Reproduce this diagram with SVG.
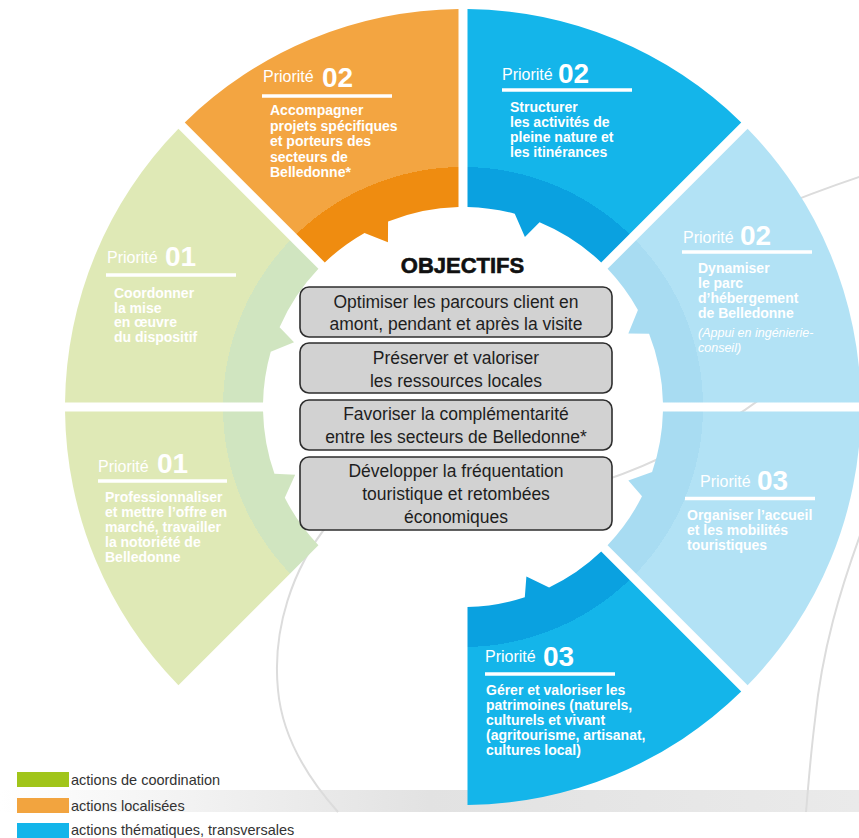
<svg xmlns="http://www.w3.org/2000/svg" width="859" height="838" viewBox="0 0 859 838">
<style>
.pr{font-family:"Liberation Sans",Arial,sans-serif;font-size:16px;fill:#fff}
.num{font-family:"Liberation Sans",Arial,sans-serif;font-size:28px;font-weight:bold;fill:#fff}
.body{font-family:"Liberation Sans",Arial,sans-serif;font-size:14px;font-weight:bold;fill:#fff}
.ital{font-family:"Liberation Sans",Arial,sans-serif;font-size:12.5px;font-style:italic;fill:#fff}
.rule{stroke:#fff;stroke-width:3.5}
.bg{fill:none;stroke:#dcdcdc;stroke-width:2}
.box rect{fill:#d2d2d2;stroke:#2e2e2e;stroke-width:1.6}
.box text{font-family:"Liberation Sans",Arial,sans-serif;font-size:17.5px;fill:#1e1e1e;text-anchor:middle}
.leg{font-family:"Liberation Sans",Arial,sans-serif;font-size:14.5px;fill:#333}
</style>
<defs>
<radialGradient id="gO" gradientUnits="userSpaceOnUse" cx="463" cy="407" r="398"><stop offset="0.603" stop-color="#ef8c10"/><stop offset="0.603" stop-color="#f3a541"/></radialGradient>
<radialGradient id="gB" gradientUnits="userSpaceOnUse" cx="463" cy="407" r="398"><stop offset="0.603" stop-color="#0aa1e0"/><stop offset="0.603" stop-color="#14b5ea"/></radialGradient>
<radialGradient id="gL" gradientUnits="userSpaceOnUse" cx="463" cy="407" r="398"><stop offset="0.603" stop-color="#a8dcf2"/><stop offset="0.603" stop-color="#b2e2f5"/></radialGradient>
<radialGradient id="gG" gradientUnits="userSpaceOnUse" cx="463" cy="407" r="398"><stop offset="0.603" stop-color="#d0e5c0"/><stop offset="0.603" stop-color="#dfe9b6"/></radialGradient>
<linearGradient id="band" x1="0" y1="0" x2="1" y2="0"><stop offset="0" stop-color="#ffffff"/><stop offset="0.5" stop-color="#e2e2e2"/><stop offset="1" stop-color="#eaeaea"/></linearGradient>
</defs>
<rect width="859" height="838" fill="#fff"/>
<g id="background">
<rect x="0" y="790" width="859" height="22" fill="url(#band)"/>
<path class="bg" d="M 330 522 C 292 568 272 630 278 690 C 282 735 305 775 338 812"/>
<path class="bg" d="M 862 530 C 840 590 822 650 815 720 C 810 760 808 790 806 812"/>
<path class="bg" d="M 600 482 Q 690 452 770 392"/>
<path class="bg" d="M 700 240 Q 790 200 862 176"/>
</g>
<g id="seg-green-1a">
<path fill="url(#gG)" d="M 65.03 402.5 A 398 398 0 0 1 178.41 128.77 L 318.43 268.80 A 200 200 0 0 0 279.59 327.25 L 294.02 342.14 L 270.75 351.87 A 200 200 0 0 0 263.05 402.5 Z"/>
<text class="pr" x="107" y="263">Priorité</text><text class="num" x="165" y="266">01</text>
<line class="rule" x1="106" y1="275" x2="236" y2="275"/>
<text class="body"><tspan x="114" y="298">Coordonner</tspan><tspan x="114" y="312.5">la mise</tspan><tspan x="114" y="327">en œuvre</tspan><tspan x="114" y="341.5">du dispositif</tspan></text>
</g>
<g id="seg-orange-2">
<path fill="url(#gO)" d="M 184.77 122.41 A 398 398 0 0 1 458.5 9.03 L 458.5 207.05 A 200 200 0 0 0 388.08 221.56 L 387.94 242.30 L 364.52 232.93 A 200 200 0 0 0 324.80 262.43 Z"/>
<text class="pr" x="263" y="82">Priorité</text><text class="num" x="322" y="87">02</text>
<line class="rule" x1="262" y1="96" x2="392" y2="96"/>
<text class="body"><tspan x="270" y="115">Accompagner</tspan><tspan x="270" y="130.6">projets spécifiques</tspan><tspan x="270" y="146.2">et porteurs des</tspan><tspan x="270" y="161.8">secteurs de</tspan><tspan x="270" y="177.4">Belledonne*</tspan></text>
</g>
<g id="seg-blue-2">
<path fill="url(#gB)" d="M 467.5 9.03 A 398 398 0 0 1 741.23 122.41 L 601.20 262.43 A 200 200 0 0 0 539.54 222.22 L 524.91 236.92 L 514.76 213.81 A 200 200 0 0 0 467.5 207.05 Z"/>
<text class="pr" x="502" y="80">Priorité</text><text class="num" x="558" y="83">02</text>
<line class="rule" x1="502" y1="90" x2="632" y2="90"/>
<text class="body"><tspan x="510" y="112">Structurer</tspan><tspan x="510" y="127">les activités de</tspan><tspan x="510" y="142">pleine nature et</tspan><tspan x="510" y="157">les itinérances</tspan></text>
</g>
<g id="seg-light-2">
<path fill="url(#gL)" d="M 747.59 128.77 A 398 398 0 0 1 860.97 402.5 L 662.95 402.5 A 200 200 0 0 0 649.08 333.70 L 628.35 333.38 L 637.92 310.04 A 200 200 0 0 0 607.57 268.80 Z"/>
<text class="pr" x="683" y="243">Priorité</text><text class="num" x="740" y="245">02</text>
<line class="rule" x1="682" y1="252" x2="812" y2="252"/>
<text class="body"><tspan x="698" y="273">Dynamiser</tspan><tspan x="698" y="288">le parc</tspan><tspan x="698" y="303">d’hébergement</tspan><tspan x="698" y="318">de Belledonne</tspan></text>
<text class="ital"><tspan x="698" y="337">(Appui en ingénierie-</tspan><tspan x="698" y="352">conseil)</tspan></text>
</g>
<g id="seg-light-3">
<path fill="url(#gL)" d="M 860.97 411.5 A 398 398 0 0 1 747.59 685.23 L 607.57 545.20 A 200 200 0 0 0 641.99 496.24 L 628.35 480.62 L 652.10 472.11 A 200 200 0 0 0 662.95 411.5 Z"/>
<text class="pr" x="700" y="487">Priorité</text><text class="num" x="757" y="490">03</text>
<line class="rule" x1="685" y1="498.5" x2="815" y2="498.5"/>
<text class="body"><tspan x="687" y="520">Organiser l’accueil</tspan><tspan x="687" y="535">et les mobilités</tspan><tspan x="687" y="550">touristiques</tspan></text>
</g>
<g id="seg-blue-3">
<path fill="url(#gB)" d="M 741.23 691.59 A 398 398 0 0 1 467.5 804.97 L 467.5 606.95 A 200 200 0 0 0 524.80 597.21 L 526.39 576.54 L 549.10 587.52 A 200 200 0 0 0 601.20 551.57 Z"/>
<text class="pr" x="485" y="662">Priorité</text><text class="num" x="543" y="666">03</text>
<line class="rule" x1="485" y1="674" x2="615" y2="674"/>
<text class="body"><tspan x="486" y="695">Gérer et valoriser les</tspan><tspan x="486" y="710">patrimoines (naturels,</tspan><tspan x="486" y="725">culturels et vivant</tspan><tspan x="486" y="740">(agritourisme, artisanat,</tspan><tspan x="486" y="755">cultures local)</tspan></text>
</g>
<g id="seg-green-1b">
<path fill="url(#gG)" d="M 178.41 685.23 A 398 398 0 0 1 65.03 411.5 L 263.05 411.5 A 200 200 0 0 0 274.47 473.76 L 295.18 474.80 L 284.80 497.80 A 200 200 0 0 0 318.43 545.20 Z"/>
<text class="pr" x="98" y="472">Priorité</text><text class="num" x="157" y="473">01</text>
<line class="rule" x1="98" y1="481" x2="227" y2="481"/>
<text class="body"><tspan x="105" y="502">Professionnaliser</tspan><tspan x="105" y="517">et mettre l’offre en</tspan><tspan x="105" y="532">marché, travailler</tspan><tspan x="105" y="547">la notoriété de</tspan><tspan x="105" y="562">Belledonne</tspan></text>
</g>
<g id="objectifs">
<text x="462.5" y="273" text-anchor="middle" font-family="Liberation Sans, Arial, sans-serif" font-size="22" font-weight="bold" fill="#111" stroke="#111" stroke-width="0.6">OBJECTIFS</text>
<g id="obj-1" class="box"><rect x="300" y="287" width="312" height="50" rx="9"/><text x="456" y="308">Optimiser les parcours client en</text><text x="456" y="330">amont, pendant et après la visite</text></g>
<g id="obj-2" class="box"><rect x="300" y="343" width="312" height="50" rx="9"/><text x="456" y="364">Préserver et valoriser</text><text x="456" y="387">les ressources locales</text></g>
<g id="obj-3" class="box"><rect x="300" y="400" width="312" height="50" rx="9"/><text x="456" y="420">Favoriser la complémentarité</text><text x="456" y="443">entre les secteurs de Belledonne*</text></g>
<g id="obj-4" class="box"><rect x="300" y="457" width="312" height="73" rx="9"/><text x="456" y="477">Développer la fréquentation</text><text x="456" y="500">touristique et retombées</text><text x="456" y="523">économiques</text></g>
</g>
<g id="connectors"></g>
<g id="legend">
<rect x="17" y="772" width="52" height="15" fill="#a1c51a"/><text class="leg" x="71" y="785">actions de coordination</text>
<rect x="17" y="798" width="52" height="15" fill="#f2a43f"/><text class="leg" x="71" y="810.5">actions localisées</text>
<rect x="17" y="823" width="52" height="15" fill="#13b5ea"/><text class="leg" x="71" y="835">actions thématiques, transversales</text>
</g>
</svg>
